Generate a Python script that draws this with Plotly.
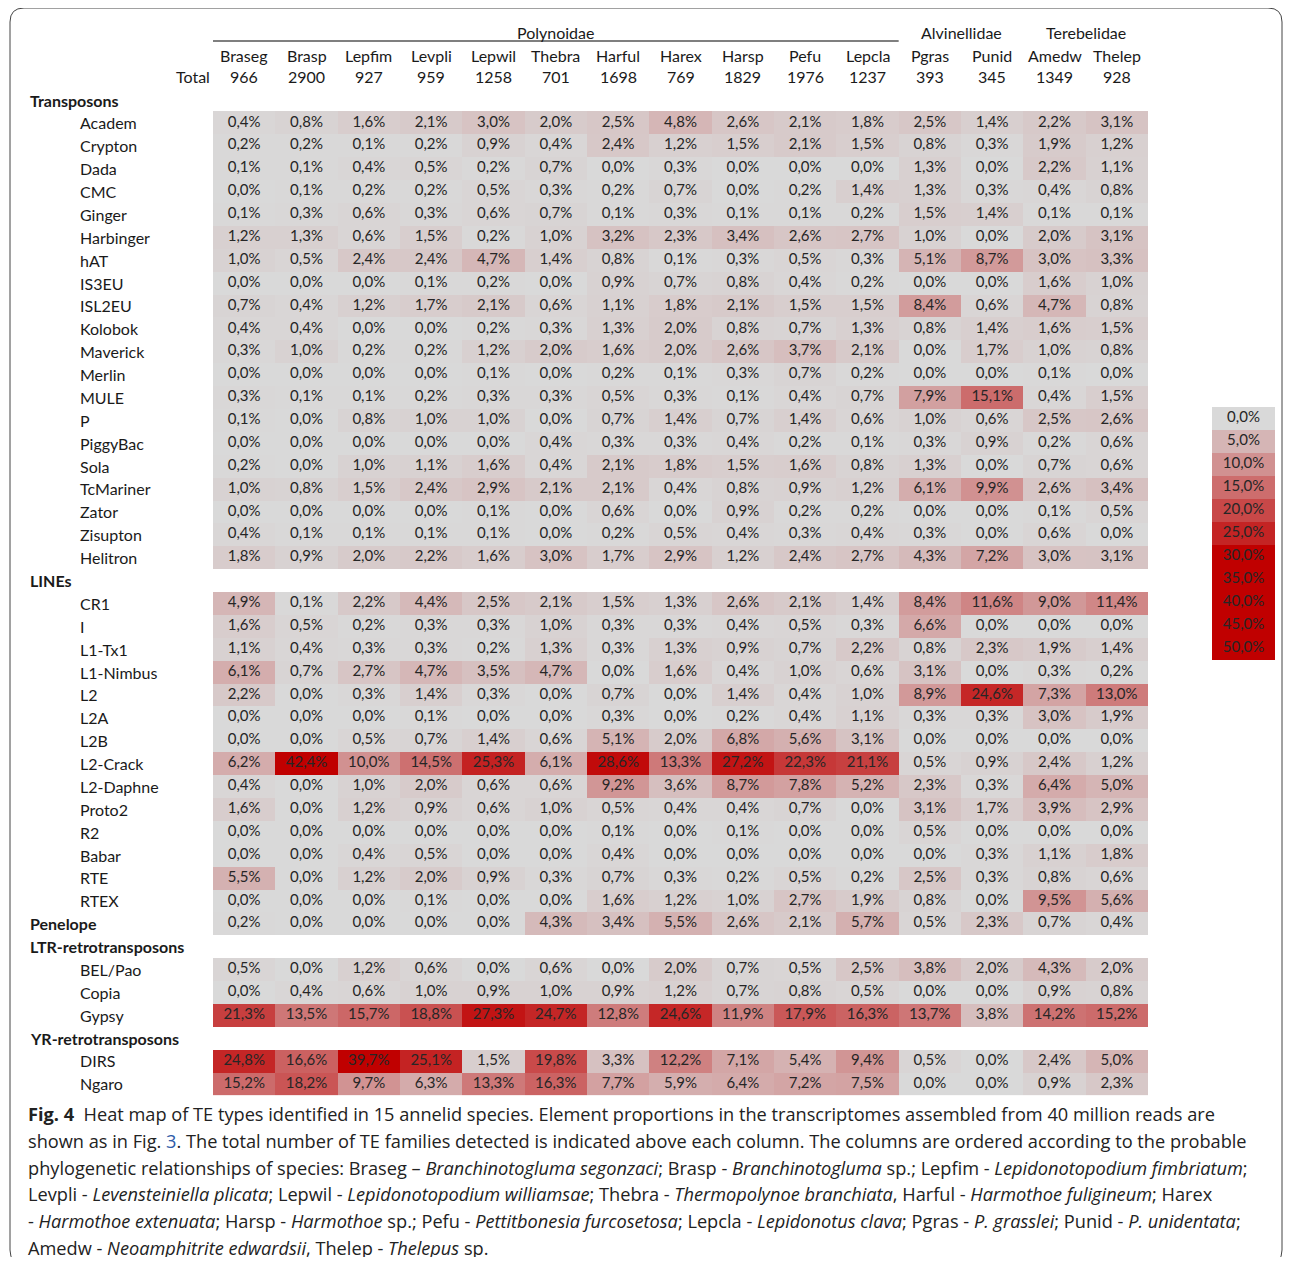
import plotly.graph_objects as go

species = ["Braseg", "Brasp", "Lepfim", "Levpli", "Lepwil", "Thebra", "Harful", "Harex",
           "Harsp", "Pefu", "Lepcla", "Pgras", "Punid", "Amedw", "Thelep"]
totals = [966, 2900, 927, 959, 1258, 701, 1698, 769, 1829, 1976, 1237, 393, 345, 1349, 928]
families = [("Polynoidae", 0, 10), ("Alvinellidae", 11, 12), ("Terebelidae", 13, 14)]

transposon_names = ["Academ", "Crypton", "Dada", "CMC", "Ginger", "Harbinger", "hAT", "IS3EU",
                    "ISL2EU", "Kolobok", "Maverick", "Merlin", "MULE", "P", "PiggyBac", "Sola",
                    "TcMariner", "Zator", "Zisupton", "Helitron"]
transposon_values = [
    [0.4, 0.8, 1.6, 2.1, 3.0, 2.0, 2.5, 4.8, 2.6, 2.1, 1.8, 2.5, 1.4, 2.2, 3.1],
    [0.2, 0.2, 0.1, 0.2, 0.9, 0.4, 2.4, 1.2, 1.5, 2.1, 1.5, 0.8, 0.3, 1.9, 1.2],
    [0.1, 0.1, 0.4, 0.5, 0.2, 0.7, 0.0, 0.3, 0.0, 0.0, 0.0, 1.3, 0.0, 2.2, 1.1],
    [0.0, 0.1, 0.2, 0.2, 0.5, 0.3, 0.2, 0.7, 0.0, 0.2, 1.4, 1.3, 0.3, 0.4, 0.8],
    [0.1, 0.3, 0.6, 0.3, 0.6, 0.7, 0.1, 0.3, 0.1, 0.1, 0.2, 1.5, 1.4, 0.1, 0.1],
    [1.2, 1.3, 0.6, 1.5, 0.2, 1.0, 3.2, 2.3, 3.4, 2.6, 2.7, 1.0, 0.0, 2.0, 3.1],
    [1.0, 0.5, 2.4, 2.4, 4.7, 1.4, 0.8, 0.1, 0.3, 0.5, 0.3, 5.1, 8.7, 3.0, 3.3],
    [0.0, 0.0, 0.0, 0.1, 0.2, 0.0, 0.9, 0.7, 0.8, 0.4, 0.2, 0.0, 0.0, 1.6, 1.0],
    [0.7, 0.4, 1.2, 1.7, 2.1, 0.6, 1.1, 1.8, 2.1, 1.5, 1.5, 8.4, 0.6, 4.7, 0.8],
    [0.4, 0.4, 0.0, 0.0, 0.2, 0.3, 1.3, 2.0, 0.8, 0.7, 1.3, 0.8, 1.4, 1.6, 1.5],
    [0.3, 1.0, 0.2, 0.2, 1.2, 2.0, 1.6, 2.0, 2.6, 3.7, 2.1, 0.0, 1.7, 1.0, 0.8],
    [0.0, 0.0, 0.0, 0.0, 0.1, 0.0, 0.2, 0.1, 0.3, 0.7, 0.2, 0.0, 0.0, 0.1, 0.0],
    [0.3, 0.1, 0.1, 0.2, 0.3, 0.3, 0.5, 0.3, 0.1, 0.4, 0.7, 7.9, 15.1, 0.4, 1.5],
    [0.1, 0.0, 0.8, 1.0, 1.0, 0.0, 0.7, 1.4, 0.7, 1.4, 0.6, 1.0, 0.6, 2.5, 2.6],
    [0.0, 0.0, 0.0, 0.0, 0.0, 0.4, 0.3, 0.3, 0.4, 0.2, 0.1, 0.3, 0.9, 0.2, 0.6],
    [0.2, 0.0, 1.0, 1.1, 1.6, 0.4, 2.1, 1.8, 1.5, 1.6, 0.8, 1.3, 0.0, 0.7, 0.6],
    [1.0, 0.8, 1.5, 2.4, 2.9, 2.1, 2.1, 0.4, 0.8, 0.9, 1.2, 6.1, 9.9, 2.6, 3.4],
    [0.0, 0.0, 0.0, 0.0, 0.1, 0.0, 0.6, 0.0, 0.9, 0.2, 0.2, 0.0, 0.0, 0.1, 0.5],
    [0.4, 0.1, 0.1, 0.1, 0.1, 0.0, 0.2, 0.5, 0.4, 0.3, 0.4, 0.3, 0.0, 0.6, 0.0],
    [1.8, 0.9, 2.0, 2.2, 1.6, 3.0, 1.7, 2.9, 1.2, 2.4, 2.7, 4.3, 7.2, 3.0, 3.1],
]

line_names = ["CR1", "I", "L1-Tx1", "L1-Nimbus", "L2", "L2A", "L2B", "L2-Crack", "L2-Daphne",
              "Proto2", "R2", "Babar", "RTE", "RTEX"]
line_values = [
    [4.9, 0.1, 2.2, 4.4, 2.5, 2.1, 1.5, 1.3, 2.6, 2.1, 1.4, 8.4, 11.6, 9.0, 11.4],
    [1.6, 0.5, 0.2, 0.3, 0.3, 1.0, 0.3, 0.3, 0.4, 0.5, 0.3, 6.6, 0.0, 0.0, 0.0],
    [1.1, 0.4, 0.3, 0.3, 0.2, 1.3, 0.3, 1.3, 0.9, 0.7, 2.2, 0.8, 2.3, 1.9, 1.4],
    [6.1, 0.7, 2.7, 4.7, 3.5, 4.7, 0.0, 1.6, 0.4, 1.0, 0.6, 3.1, 0.0, 0.3, 0.2],
    [2.2, 0.0, 0.3, 1.4, 0.3, 0.0, 0.7, 0.0, 1.4, 0.4, 1.0, 8.9, 24.6, 7.3, 13.0],
    [0.0, 0.0, 0.0, 0.1, 0.0, 0.0, 0.3, 0.0, 0.2, 0.4, 1.1, 0.3, 0.3, 3.0, 1.9],
    [0.0, 0.0, 0.5, 0.7, 1.4, 0.6, 5.1, 2.0, 6.8, 5.6, 3.1, 0.0, 0.0, 0.0, 0.0],
    [6.2, 42.4, 10.0, 14.5, 25.3, 6.1, 28.6, 13.3, 27.2, 22.3, 21.1, 0.5, 0.9, 2.4, 1.2],
    [0.4, 0.0, 1.0, 2.0, 0.6, 0.6, 9.2, 3.6, 8.7, 7.8, 5.2, 2.3, 0.3, 6.4, 5.0],
    [1.6, 0.0, 1.2, 0.9, 0.6, 1.0, 0.5, 0.4, 0.4, 0.7, 0.0, 3.1, 1.7, 3.9, 2.9],
    [0.0, 0.0, 0.0, 0.0, 0.0, 0.0, 0.1, 0.0, 0.1, 0.0, 0.0, 0.5, 0.0, 0.0, 0.0],
    [0.0, 0.0, 0.4, 0.5, 0.0, 0.0, 0.4, 0.0, 0.0, 0.0, 0.0, 0.0, 0.3, 1.1, 1.8],
    [5.5, 0.0, 1.2, 2.0, 0.9, 0.3, 0.7, 0.3, 0.2, 0.5, 0.2, 2.5, 0.3, 0.8, 0.6],
    [0.0, 0.0, 0.0, 0.1, 0.0, 0.0, 1.6, 1.2, 1.0, 2.7, 1.9, 0.8, 0.0, 9.5, 5.6],
]

penelope_values = [0.2, 0.0, 0.0, 0.0, 0.0, 4.3, 3.4, 5.5, 2.6, 2.1, 5.7, 0.5, 2.3, 0.7, 0.4]

ltr_names = ["BEL/Pao", "Copia", "Gypsy"]
ltr_values = [
    [0.5, 0.0, 1.2, 0.6, 0.0, 0.6, 0.0, 2.0, 0.7, 0.5, 2.5, 3.8, 2.0, 4.3, 2.0],
    [0.0, 0.4, 0.6, 1.0, 0.9, 1.0, 0.9, 1.2, 0.7, 0.8, 0.5, 0.0, 0.0, 0.9, 0.8],
    [21.3, 13.5, 15.7, 18.8, 27.3, 24.7, 12.8, 24.6, 11.9, 17.9, 16.3, 13.7, 3.8, 14.2, 15.2],
]

yr_names = ["DIRS", "Ngaro"]
yr_values = [
    [24.8, 16.6, 39.7, 25.1, 1.5, 19.8, 3.3, 12.2, 7.1, 5.4, 9.4, 0.5, 0.0, 2.4, 5.0],
    [15.2, 18.2, 9.7, 6.3, 13.3, 16.3, 7.7, 5.9, 6.4, 7.2, 7.5, 0.0, 0.0, 0.9, 2.3],
]

legend_steps = [0, 5, 10, 15, 20, 25, 30, 35, 40, 45, 50]

# ---- build the table rows (group headers have no cells)
rows = [("Transposons", None, "group")]
rows += [(n, v, "item") for n, v in zip(transposon_names, transposon_values)]
rows += [("LINEs", None, "group")]
rows += [(n, v, "item") for n, v in zip(line_names, line_values)]
rows += [("Penelope", penelope_values, "groupitem")]
rows += [("LTR-retrotransposons", None, "group")]
rows += [(n, v, "item") for n, v in zip(ltr_names, ltr_values)]
rows += [("YR-retrotransposons", None, "group")]
rows += [(n, v, "item") for n, v in zip(yr_names, yr_values)]


def pct(v):
    return f"{v:.1f}%".replace(".", ",")


z = []
tx, ty, tt = [], [], []
for i, (name, vals, kind) in enumerate(rows):
    if vals is None:
        z.append([None] * len(species))
        continue
    z.append(vals)
    for s, v in zip(species, vals):
        tx.append(s)
        ty.append(i)
        tt.append(pct(v))

# the page body has an 8px margin, so the figure is drawn 8px in from the window corner
OFF = 8
W, H = 1292 - 2 * OFF, 1265 - 2 * OFF
def px(x): return (x - OFF) / W
def py(y): return 1 - (y - OFF) / H

ROW0, PITCH = 100, 22.88
n_rows = len(rows)
colors = [[0, "rgb(217,217,217)"], [1, "rgb(192,0,0)"]]
FONT = "Lato, Open Sans, sans-serif"
INK = "#1a1a1a"
CELL_FONT = dict(family=FONT, size=15, color="#262626")

fig = go.Figure()
fig.add_trace(go.Heatmap(
    z=z, x=species, y=list(range(n_rows)),
    colorscale=colors, zmin=0, zmax=30, showscale=False, hoverinfo="skip",
    xaxis="x", yaxis="y",
))
fig.add_trace(go.Scatter(
    x=tx, y=ty, text=tt, mode="text", textfont=CELL_FONT, hoverinfo="skip",
    xaxis="x", yaxis="y",
))
fig.add_trace(go.Heatmap(
    z=[[v] for v in legend_steps], x=[0], y=list(range(len(legend_steps))),
    colorscale=colors, zmin=0, zmax=30, showscale=False, hoverinfo="skip",
    xaxis="x2", yaxis="y2",
))
fig.add_trace(go.Scatter(
    x=[0] * len(legend_steps), y=list(range(len(legend_steps))),
    text=[pct(v) for v in legend_steps], mode="text", textfont=CELL_FONT,
    hoverinfo="skip", xaxis="x2", yaxis="y2",
))

ann = []
for i, (name, vals, kind) in enumerate(rows):
    bold = kind != "item"
    ann.append(dict(xref="paper", yref="y", x=px(78 if kind == "item" else 28), y=i,
                    xanchor="left", yanchor="middle", showarrow=False,
                    text=f"<b>{name}</b>" if bold else name,
                    font=dict(family=FONT, size=16, color=INK)))

for s, t in zip(species, totals):
    ann.append(dict(xref="x", yref="paper", x=s, y=py(55), xanchor="center", yanchor="middle",
                    showarrow=False, text=s, font=dict(family=FONT, size=16, color=INK)))
    ann.append(dict(xref="x", yref="paper", x=s, y=py(77), xanchor="center", yanchor="middle",
                    showarrow=False, text=str(t), font=dict(family=FONT, size=16, color=INK)))
ann.append(dict(xref="paper", yref="paper", x=px(212), y=py(77), xanchor="right",
                yanchor="middle", showarrow=False, text="Total",
                font=dict(family=FONT, size=16, color=INK)))

shapes = []
for fam, a, b in families:
    ann.append(dict(xref="x", yref="paper", x=(a + b) / 2, y=py(32), xanchor="center",
                    yanchor="middle", showarrow=False, text=fam,
                    font=dict(family=FONT, size=16, color=INK)))
    if fam == "Polynoidae":
        shapes.append(dict(type="line", xref="x", yref="paper", x0=a - 0.5, x1=b + 0.5,
                           y0=py(41), y1=py(41), line=dict(color="#555", width=1.5)))

caption_lines = [
    "<b>Fig. 4</b>  Heat map of TE types identified in 15 annelid species. Element proportions in the transcriptomes assembled from 40 million reads are",
    "shown as in Fig. <span style='color:#2e5aa8'>3</span>. The total number of TE families detected is indicated above each column. The columns are ordered according to the probable",
    "phylogenetic relationships of species: Braseg – <i>Branchinotogluma segonzaci</i>; Brasp - <i>Branchinotogluma</i> sp.; Lepfim - <i>Lepidonotopodium fimbriatum</i>;",
    "Levpli - <i>Levensteiniella plicata</i>; Lepwil - <i>Lepidonotopodium williamsae</i>; Thebra - <i>Thermopolynoe branchiata</i>, Harful - <i>Harmothoe fuligineum</i>; Harex",
    "- <i>Harmothoe extenuata</i>; Harsp - <i>Harmothoe</i> sp.; Pefu - <i>Pettitbonesia furcosetosa</i>; Lepcla - <i>Lepidonotus clava</i>; Pgras - <i>P. grasslei</i>; Punid - <i>P. unidentata</i>;",
    "Amedw - <i>Neoamphitrite edwardsii</i>, Thelep - <i>Thelepus</i> sp.",
]
for k, line in enumerate(caption_lines):
    ann.append(dict(xref="paper", yref="paper", x=px(26), y=py(1114 + 26.8 * k),
                    xanchor="left", yanchor="middle", showarrow=False, text=line,
                    font=dict(family="Open Sans, sans-serif", size=18.2, color="#222")))

# outer rounded frame (its bottom edge falls just below the visible page)
L, T, R, B, r = 10, 8, 1282, 1264, 14
frame = (f"M {px(L)} {py(T + r)} Q {px(L)} {py(T)} {px(L + r)} {py(T)} "
         f"L {px(R - r)} {py(T)} Q {px(R)} {py(T)} {px(R)} {py(T + r)} "
         f"L {px(R)} {py(B - r)} Q {px(R)} {py(B)} {px(R - r)} {py(B)} "
         f"L {px(L + r)} {py(B)} Q {px(L)} {py(B)} {px(L)} {py(B - r)} Z")
shapes.append(dict(type="path", xref="paper", yref="paper", path=frame,
                   line=dict(color="#444", width=1)))

top = ROW0 - PITCH / 2
bottom = ROW0 + (n_rows - 0.5) * PITCH
fig.update_layout(
    width=W, height=H, margin=dict(l=0, r=0, t=0, b=0),
    paper_bgcolor="white", plot_bgcolor="white",
    xaxis=dict(domain=[px(213), px(1148)], visible=False, range=[-0.5, len(species) - 0.5]),
    yaxis=dict(domain=[py(bottom), py(top)], visible=False, range=[n_rows - 0.5, -0.5]),
    xaxis2=dict(domain=[px(1212), px(1275)], visible=False, anchor="y2", range=[-0.5, 0.5]),
    yaxis2=dict(domain=[py(660), py(407)], visible=False, anchor="x2",
                range=[len(legend_steps) - 0.5, -0.5]),
    annotations=ann, shapes=shapes, showlegend=False,
)

fig.write_html("out.html")
